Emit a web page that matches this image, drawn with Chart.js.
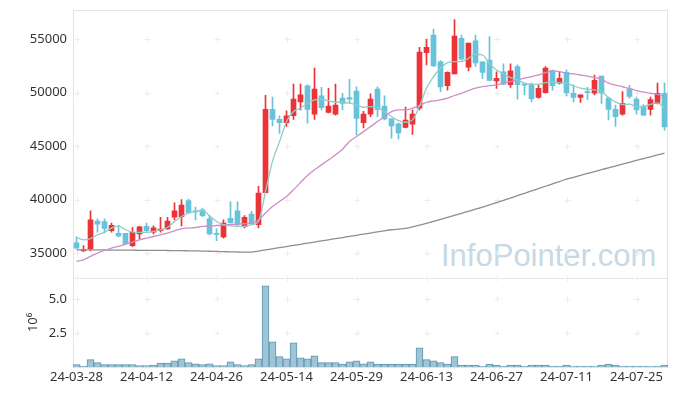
<!DOCTYPE html>
<html>
<head>
<meta charset="utf-8">
<script src="https://cdn.jsdelivr.net/npm/chart.js@4.4.1/dist/chart.umd.min.js"></script>
<style>
  html, body { margin: 0; padding: 0; background: #fff; }
  #wrap { position: relative; width: 677px; height: 396px; }
  #mark {
    position: absolute; left: 441px; top: 240px;
    font: 31px/32px 'Liberation Sans', Arial, sans-serif;
    color: #c6d9e4; z-index: 0; white-space: nowrap;
  }
  canvas { position: relative; z-index: 1; }
</style>
</head>
<body>
<div id="wrap">
  <div id="mark">InfoPointer.com</div>
  <canvas id="chart" width="677" height="396"></canvas>
</div>
<script>
// Trading days
const dates = [
  '24-03-28','24-03-29','24-04-01','24-04-02','24-04-03','24-04-04','24-04-05','24-04-08','24-04-09','24-04-11',
  '24-04-12','24-04-15','24-04-16','24-04-17','24-04-18','24-04-19','24-04-22','24-04-23','24-04-24','24-04-25',
  '24-04-26','24-04-29','24-04-30','24-05-02','24-05-03','24-05-07','24-05-08','24-05-09','24-05-10','24-05-13',
  '24-05-14','24-05-16','24-05-17','24-05-20','24-05-21','24-05-22','24-05-23','24-05-24','24-05-27','24-05-28',
  '24-05-29','24-05-30','24-05-31','24-06-03','24-06-04','24-06-05','24-06-07','24-06-10','24-06-11','24-06-12',
  '24-06-13','24-06-14','24-06-17','24-06-18','24-06-19','24-06-20','24-06-21','24-06-24','24-06-25','24-06-26',
  '24-06-27','24-06-28','24-07-01','24-07-02','24-07-03','24-07-04','24-07-05','24-07-08','24-07-09','24-07-10',
  '24-07-11','24-07-12','24-07-15','24-07-16','24-07-17','24-07-18','24-07-19','24-07-22','24-07-23','24-07-24',
  '24-07-25','24-07-26','24-07-29','24-07-30','24-07-31'
];

// OHLC
const openP = [
  35950,35200,35400,38000,37950,37100,36850,36850,35700,36800,
  37500,36950,37100,37250,38350,38400,39900,38950,39050,38200,
  36850,36500,38250,38950,37500,38650,37650,40650,48450,47500,
  47200,47850,49150,50650,48000,49700,48150,48000,49500,49550,
  50150,47200,48000,50350,48750,47550,47100,46750,47050,48550,
  53750,55400,52900,50650,51750,55100,52400,54850,52900,53050,
  51100,51950,50750,52450,50800,50800,49550,50000,52050,50900,
  51900,49950,49550,50100,49950,51550,49500,48450,48000,50350,
  49400,48750,48450,49000,49950
];
const highP = [
  36520,35700,38950,38200,38200,37800,37600,36850,37400,37500,
  37800,37550,38350,38350,39700,40000,40050,39300,39200,38500,
  37300,38100,39800,39800,38500,38900,41250,49750,49600,47850,
  48300,50800,50800,50750,52300,50500,50400,50800,49950,51250,
  50550,48250,49900,50550,49700,47550,47150,48650,48400,54250,
  55000,55950,53000,51950,56850,55400,54650,55400,52900,55250,
  51950,52700,52700,52600,50800,50900,50750,52450,52150,51950,
  52150,50750,49800,50500,51650,51550,49600,48850,50100,50700,
  49600,48900,49600,50900,50900
];
const lowP = [
  35450,35150,35200,36950,36850,36950,36500,35800,35600,36300,
  36950,36800,36950,37200,38100,37550,38750,38100,38400,36700,
  36150,36400,37800,37550,37350,37650,37350,40650,46900,46200,
  46850,47500,48400,47150,47500,48400,48100,47900,48400,49000,
  46050,46700,47750,47750,47450,45750,45650,46700,46100,48400,
  52600,52450,50100,50250,51750,53050,52050,52450,51350,51150,
  50400,50750,50500,49400,49800,49150,49500,49950,50250,50800,
  49700,49150,49100,49350,49800,49000,47450,46850,47900,49500,
  48000,47850,47900,48950,46500
];
const closeP = [
  35450,35250,38100,37700,37300,37600,36600,35850,36950,37450,
  37100,37350,37250,38000,38950,39500,38800,38850,38500,36800,
  36750,37800,37850,37650,38350,37750,40600,48450,47500,47200,
  47850,49400,49800,48450,50350,48600,48750,48850,49000,49400,
  47600,48000,49400,48450,47550,46900,46250,47450,48000,53800,
  54250,52500,50550,51900,55300,53150,54650,52800,51900,51150,
  51350,50800,52050,50750,50700,49450,50400,52300,50650,51350,
  50000,49550,49800,50000,51150,49950,48450,47750,49000,49650,
  48400,47900,49350,49950,46800
];

// Moving averages
const ma5 = [
  36460,36240,36360,36710,36960,37340,37550,37180,36960,36930,
  36930,37020,37180,37390,37950,38420,38740,38890,38980,38490,
  37950,37650,37550,37490,37490,37650,37950,40760,43600,45400,
  47300,48240,48550,49020,49330,49390,49230,49110,49110,49020,
  48860,48640,48700,48640,48230,47770,47390,47240,47460,48760,
  50420,51510,52290,52810,52910,52910,53220,53600,53530,52750,
  52130,51760,51410,51200,50890,50790,50790,50940,51010,50940,
  50890,50640,50420,50330,50260,50100,49560,49140,48900,48940,
  48700,48700,48900,49050,48550
];
const ma20 = [
  34220,34370,34690,35000,35240,35470,35620,35840,36030,36240,
  36400,36550,36710,36870,37080,37270,37340,37390,37490,37520,
  37580,37620,37670,37710,37740,37800,38110,38740,39360,39820,
  40290,40920,41600,42250,42790,43250,43720,44190,44720,45430,
  45900,46360,46830,47300,47770,48230,48390,48390,48550,48800,
  49110,49230,49330,49490,49740,49950,50200,50420,50570,50660,
  50730,50890,51040,51200,51360,51510,51660,51880,52040,51970,
  51820,51760,51660,51560,51420,51250,50900,50720,50560,50400,
  50200,50050,49950,49850,49680
];
const ma60 = [
  35310,35300,35300,35290,35290,35280,35280,35270,35270,35260,
  35260,35250,35250,35240,35230,35220,35210,35200,35190,35170,
  35150,35130,35110,35100,35090,35090,35190,35300,35400,35510,
  35610,35720,35820,35930,36030,36140,36240,36350,36450,36560,
  36660,36770,36870,36980,37080,37180,37240,37300,37450,37610,
  37780,37960,38150,38340,38530,38720,38910,39100,39300,39500,
  39710,39930,40150,40370,40590,40810,41030,41250,41470,41690,
  41910,42090,42270,42450,42630,42800,42970,43140,43310,43490,
  43670,43840,44010,44180,44350
];

// Volume (shares)
const volume = [
  170000,70000,540000,320000,170000,170000,170000,170000,170000,100000,
  100000,150000,290000,290000,460000,610000,320000,240000,170000,240000,
  100000,100000,390000,170000,100000,170000,610000,5980000,1860000,760000,
  610000,1790000,680000,610000,830000,320000,320000,320000,220000,390000,
  460000,240000,390000,220000,220000,220000,220000,220000,220000,1420000,
  540000,460000,320000,220000,760000,150000,150000,150000,70000,220000,
  150000,70000,150000,150000,70000,150000,150000,150000,70000,70000,
  150000,70000,70000,70000,70000,150000,220000,150000,70000,70000,
  70000,70000,30000,70000,150000
];

const priceTicks = [35000, 40000, 45000, 50000, 55000];
const volumeTicks = [2500000, 5000000];

const upColor = '#ec3338';
const downColor = '#68c2d9';
const candleColors = closeP.map((c, i) => c >= openP[i] ? upColor : downColor);
const fontFamily = "'Noto Sans', sans-serif";
const textColor = '#333';

// Frame lines and "+" grid markers
const framePlugin = {
  id: 'frame',
  beforeDatasetsDraw(chart) {
    const { ctx, chartArea, scales } = chart;
    const left = Math.round(chartArea.left) + 0.5;
    const right = Math.round(chartArea.right) - 0.5;
    ctx.save();
    ctx.lineWidth = 1;
    ctx.strokeStyle = '#e4e4e4';
    [scales.y, scales.yv].forEach(s => {
      const top = Math.round(s.top) + 0.5;
      const bottom = Math.round(s.bottom) + 0.5;
      ctx.strokeRect(left, top, right - left, bottom - top);
    });
    ctx.strokeStyle = '#ececec';
    const xs = [];
    dates.forEach((d, i) => { if (i % 10 === 0) xs.push(Math.round(scales.x.getPixelForValue(i)) + 0.5); });
    const ys = priceTicks.map(v => scales.y.getPixelForValue(v))
      .concat(volumeTicks.map(v => scales.yv.getPixelForValue(v)))
      .concat([scales.y.bottom])
      .map(v => Math.round(v) + 0.5);
    ctx.beginPath();
    xs.forEach(x => ys.forEach(y => {
      ctx.moveTo(x - 3, y); ctx.lineTo(x + 3, y);
      ctx.moveTo(x, y - 3); ctx.lineTo(x, y + 3);
    }));
    ctx.stroke();
    ctx.restore();
  }
};

const noPadding = s => { s.paddingTop = 0; s.paddingBottom = 0; };

const lineStyle = (color) => ({
  type: 'line', yAxisID: 'y', borderColor: color, borderWidth: 1.3,
  pointRadius: 0, cubicInterpolationMode: 'monotone', fill: false, order: 0
});

new Chart(document.getElementById('chart'), {
  data: {
    labels: dates,
    datasets: [
      Object.assign(lineStyle('#8fcdc4'), { label: 'MA5', data: ma5 }),
      Object.assign(lineStyle('#cf8dca'), { label: 'MA20', data: ma20 }),
      Object.assign(lineStyle('#8e8e8e'), { label: 'MA60', data: ma60 }),
      {
        type: 'bar', label: 'body', yAxisID: 'y', order: 1,
        data: openP.map((o, i) => [o, closeP[i]]),
        backgroundColor: candleColors, barThickness: 5, minBarLength: 1, grouped: false
      },
      {
        type: 'bar', label: 'wick', yAxisID: 'y', order: 2,
        data: lowP.map((l, i) => [l, highP[i]]),
        backgroundColor: candleColors, barThickness: 1, grouped: false
      },
      {
        type: 'bar', label: 'volume', yAxisID: 'yv', order: 3,
        data: volume,
        backgroundColor: '#9ec4d6', borderColor: '#5f96b0', borderWidth: 1,
        categoryPercentage: 1, barPercentage: 1, grouped: false
      }
    ]
  },
  options: {
    responsive: false,
    animation: false,
    layout: { padding: { top: 10, right: 9, left: 0, bottom: 0 } },
    plugins: { legend: { display: false }, tooltip: { enabled: false } },
    scales: {
      x: {
        type: 'category', offset: true,
        grid: { display: false, drawTicks: false }, border: { display: false },
        ticks: {
          autoSkip: false, maxRotation: 0, minRotation: 0, padding: 2,
          color: textColor, font: { family: fontFamily, size: 13 },
          callback: (v, i) => (i % 10 === 0 ? dates[i] : '')
        },
        afterFit: s => { s.height = 29; }
      },
      yv: {
        position: 'left', stack: 'panels', stackWeight: 1,
        min: 0, max: 6580000,
        grid: { display: false, drawTicks: false }, border: { display: false },
        afterBuildTicks: s => { s.ticks = volumeTicks.map(v => ({ value: v })); },
        ticks: {
          padding: 6, color: textColor, font: { family: fontFamily, size: 13 },
          callback: v => (v / 1e6).toFixed(1)
        },
        title: {
          display: true, text: '10\u2076', color: textColor,
          font: { family: fontFamily, size: 13 }, padding: { top: 25, bottom: 0 }
        },
        afterFit: s => { s.width = 73; noPadding(s); }
      },
      y: {
        position: 'left', stack: 'panels', stackWeight: 3,
        min: 32690, max: 57740,
        grid: { display: false, drawTicks: false }, border: { display: false },
        afterBuildTicks: s => { s.ticks = priceTicks.map(v => ({ value: v })); },
        ticks: {
          padding: 6, color: textColor, font: { family: fontFamily, size: 13 },
          callback: v => String(v)
        },
        afterFit: s => { s.width = 73; noPadding(s); }
      }
    }
  },
  plugins: [framePlugin]
});
</script>
</body>
</html>
